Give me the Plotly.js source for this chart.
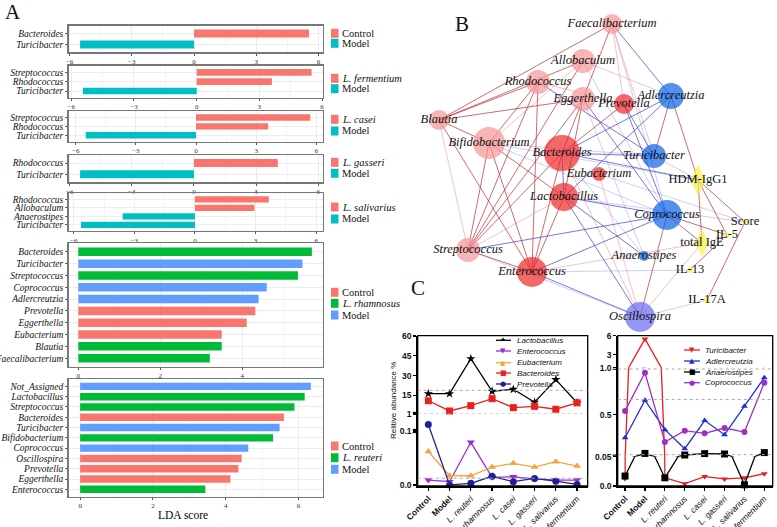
<!DOCTYPE html>
<html><head><meta charset="utf-8">
<script src="https://cdn.plot.ly/plotly-3.0.1.min.js"></script>
<style>html,body{margin:0;padding:0;background:#fff}#chart{width:777px;height:527px}</style>
</head><body><div id="chart"></div>
<script>
// ---------------- Panel A data (LEfSe LDA scores) ----------------
const a1Taxa = ['Bacteroides','Turicibacter'];
const a1LDA = [5.54, -5.49];
const a1Group = ['Control','Model'];
const a1Groups = ['Control','Model'];

const a2Taxa = ['Streptococcus','Rhodococcus','Turicibacter'];
const a2LDA = [5.5, 3.6, -5.44];
const a2Group = ['L. fermentium','L. fermentium','Model'];
const a2Groups = ['L. fermentium','Model'];

const a3Taxa = ['Streptococcus','Rhodococcus','Turicibacter'];
const a3LDA = [5.7, 3.6, -5.5];
const a3Group = ['L. casei','L. casei','Model'];
const a3Groups = ['L. casei','Model'];

const a4Taxa = ['Rhodococcus','Turicibacter'];
const a4LDA = [4.05, -5.5];
const a4Group = ['L. gasseri','Model'];
const a4Groups = ['L. gasseri','Model'];

const a5Taxa = ['Rhodococcus','Allobaculum','Anaerostipes','Turicibacter'];
const a5LDA = [3.65, 2.94, -3.58, -5.64];
const a5Group = ['L. salivarius','L. salivarius','Model','Model'];
const a5Groups = ['L. salivarius','Model'];

const a6Taxa = ['Bacteroides','Turicibacter','Streptococcus','Coprococcus','Adlercreutzia','Prevotella','Eggerthella','Eubacterium','Blautia','Faecalibacterium'];
const a6LDA = [5.7, 5.47, 5.36, 4.6, 4.4, 4.32, 4.11, 3.5, 3.5, 3.21];
const a6Group = ['L. rhamnosus','Model','L. rhamnosus','Model','Model','Control','Control','Control','L. rhamnosus','L. rhamnosus'];
const a6Groups = ['Control','L. rhamnosus','Model'];

const a7Taxa = ['Not_Assigned','Lactobacillus','Streptococcus','Bacteroides','Turicibacter','Bifidobacterium','Coprococcus','Oscillospira','Prevotella','Eggerthella','Enterococcus'];
const a7LDA = [6.34, 6.17, 5.89, 5.6, 5.48, 5.3, 4.62, 4.44, 4.35, 4.13, 3.44];
const a7Group = ['Model','L. reuteri','L. reuteri','Control','Model','L. reuteri','Model','Control','Control','Control','L. reuteri'];
const a7Groups = ['Control','L. reuteri','Model'];

// ---------------- Panel B data (correlation network) ----------------
const nodeNames = ['Faecalibacterium','Allobaculum','Rhodococcus','Eggerthella','Prevotella','Adlercreutzia','Blautia','Bifidobacterium','Bacteroides','Turicibacter','Eubacterium','Lactobacillus','Coprococcus','Streptococcus','Enterococcus','Anaerostipes','Oscillospira','HDM-IgG1','total IgE','Score','IL-5','IL-13','IL-17A'];
const nodeLayoutX = [612,583,538,583,624,671,439,489,562,654,599,564,667,468,532,644,640,698,702,745,727,690,707];
const nodeLayoutY = [24,61,82,99,104,96,120,143,153,156,174,197,215,250,272,256,317,180,243,222,235,270,300];
const nodeWeight = [20,24,24,24,20,26,20,32,36,24,14,28,30,24,30,10,30,22,20,6,6,6,6];
const nodeKind = ['ctlLight','ctlLight','ctlLight','ctlLight','ctl','model','ctlLight','ctlLight','ctl','model','ctl','ctl','model','ctlLight','ctl','model','modelAlt','immuneD','immuneD','immune','immune','immune','immune'];

const edgesPos = [['Faecalibacterium','Blautia'],['Faecalibacterium','Eggerthella'],['Allobaculum','Blautia'],['Allobaculum','Streptococcus'],['Rhodococcus','Blautia'],['Rhodococcus','Bifidobacterium'],['Rhodococcus','Streptococcus'],['Rhodococcus','Enterococcus'],['Eggerthella','Blautia'],['Eggerthella','Bacteroides'],['Eggerthella','Lactobacillus'],['Eggerthella','Streptococcus'],['Blautia','Bifidobacterium'],['Blautia','Enterococcus'],['Bifidobacterium','Streptococcus'],['Bifidobacterium','Enterococcus'],['Bifidobacterium','Lactobacillus'],['Bacteroides','Enterococcus'],['Bacteroides','Streptococcus'],['Lactobacillus','Enterococcus'],['Streptococcus','Enterococcus'],['Prevotella','Bacteroides'],['Adlercreutzia','Turicibacter'],['Adlercreutzia','HDM-IgG1'],['Coprococcus','total IgE'],['Coprococcus','Oscillospira'],['HDM-IgG1','total IgE'],['HDM-IgG1','Score'],['HDM-IgG1','IL-5'],['IL-5','IL-13'],['Score','IL-17A'],['Coprococcus','IL-5']];
const edgesPosWeak = [['Faecalibacterium','Prevotella'],['Allobaculum','Adlercreutzia'],['Rhodococcus','Prevotella'],['Blautia','Streptococcus'],['Allobaculum','Bifidobacterium'],['Lactobacillus','Streptococcus'],['Oscillospira','total IgE'],['Oscillospira','Eubacterium'],['Oscillospira','Bacteroides'],['Turicibacter','HDM-IgG1'],['Enterococcus','total IgE'],['Faecalibacterium','Turicibacter']];
const edgesNeg = [['Faecalibacterium','Adlercreutzia'],['Rhodococcus','Turicibacter'],['Eggerthella','Coprococcus'],['Prevotella','Turicibacter'],['Prevotella','Coprococcus'],['Bacteroides','Adlercreutzia'],['Bacteroides','Turicibacter'],['Bacteroides','HDM-IgG1'],['Lactobacillus','Coprococcus'],['Lactobacillus','Anaerostipes'],['Lactobacillus','Oscillospira'],['Lactobacillus','Bacteroides'],['Streptococcus','Coprococcus'],['Enterococcus','Coprococcus'],['Enterococcus','Oscillospira'],['Lactobacillus','Adlercreutzia']];
const edgesNegWeak = [['Faecalibacterium','Coprococcus'],['Allobaculum','Coprococcus'],['Bifidobacterium','Turicibacter'],['Bifidobacterium','HDM-IgG1'],['Bifidobacterium','Coprococcus'],['Lactobacillus','Score'],['Eubacterium','Score'],['Enterococcus','IL-13'],['Oscillospira','IL-17A'],['Eggerthella','Anaerostipes'],['Bacteroides','Anaerostipes'],['Streptococcus','Oscillospira']];

// ---------------- Panel C data (relative abundance %) ----------------
const cGroups = ['Control','Model','L. reuteri','L. rhamnosus','L. casei','L. gasseri','L. salivarius','L. fermentium'];
const lactobacillus = [16.4, 16.4, 42.8, 18.2, 19.7, 9.9, 27.0, 9.5];
const enterococcus = [0.009, 0.006, 0.079, 0.014, 0.015, 0.011, 0.009, 0.009];
const eubacterium = [0.062, 0.017, 0.017, 0.033, 0.040, 0.033, 0.043, 0.035];
const bacteroides = [11.0, 3.3, 7.3, 12.6, 5.8, 6.8, 4.6, 9.5];
const prevotella = [0.112, 0.0, 0.003, 0.016, 0.006, 0.012, 0.007, 0.001];
const turicibacter = [0.013, 5.5, 0.014, 0.004, 0.016, 0.012, 0.014, 0.021];
const adlercreutzia = [0.253, 0.653, 0.339, 0.135, 0.436, 0.285, 0.589, 0.893];
const anaerostipes = [0.017, 0.085, 0.014, 0.068, 0.083, 0.079, 0.002, 0.094];
const coprococcus = [0.539, 0.946, 0.206, 0.328, 0.299, 0.356, 0.313, 0.839];
const cLeftRefLines = [18.9, 0.0124];
const cRightRefLines = [0.986, 0.66, 0.072];

// ---------------- helpers ----------------
const W = 777, H = 527;
const fx = x => x / W, fy = y => 1 - y / H;
const SERIF = 'Liberation Serif', SANS = 'Liberation Sans';
const traces = [], shapes = [], annotations = [];
const layout = {width: W, height: H, margin: {l:0, r:0, t:0, b:0}, showlegend: false,
  paper_bgcolor: '#fff', plot_bgcolor: '#fff', font: {family: SERIF, color: '#000'}};

// ---------------- Panel A ----------------
const pal2 = ['#F8766D', '#00BFC4'], pal3 = ['#F8766D', '#00BA38', '#619CFF'];
const aSets = [
  {taxa:a1Taxa, lda:a1LDA, grp:a1Group, groups:a1Groups},
  {taxa:a2Taxa, lda:a2LDA, grp:a2Group, groups:a2Groups},
  {taxa:a3Taxa, lda:a3LDA, grp:a3Group, groups:a3Groups},
  {taxa:a4Taxa, lda:a4LDA, grp:a4Group, groups:a4Groups},
  {taxa:a5Taxa, lda:a5LDA, grp:a5Group, groups:a5Groups},
  {taxa:a6Taxa, lda:a6LDA, grp:a6Group, groups:a6Groups},
  {taxa:a7Taxa, lda:a7LDA, grp:a7Group, groups:a7Groups}
];
const aFrames = [
  {y0:25.7, y1:52.3, xr:[-6.05, 6.19], tv:[-6,-3,0,3,6], leg:[33.3, 43.3]},
  {y0:65.7, y1:97.7, xr:[-6.13, 6.02], tv:[-6,-3,0,3,6], leg:[78.3, 88.7]},
  {y0:111, y1:141.7, xr:[-6.36, 6.31], tv:[-6,-3,0,3,6], leg:[119.3, 131]},
  {y0:155, y1:182.3, xr:[-6.06, 6.21], tv:[-6,-3,0,3,6], leg:[162.3, 173.3]},
  {y0:193.3, y1:231, xr:[-6.26, 6.31], tv:[-6,-3,0,3,6], leg:[207, 219]},
  {y0:243.3, y1:366.7, xr:[-0.24, 5.96], tv:[0,2,4], leg:[292.3, 303.3, 315]},
  {y0:379, y1:496.7, xr:[-0.32, 6.66], tv:[0,2,4,6], leg:[446, 457.7, 469.3]}
];
aSets.forEach((s, i) => {
  const k = i + 1, fr = aFrames[i];
  const pal = s.groups.length === 2 ? pal2 : pal3;
  const colors = s.grp.map(g => pal[s.groups.indexOf(g)]);
  traces.push({type:'bar', orientation:'h', x:s.lda, y:s.taxa, width:0.72,
    marker:{color:colors, line:{width:0}}, xaxis:'x'+k, yaxis:'y'+k, hoverinfo:'x+y'});
  const n = s.taxa.length;
  const step = fr.tv[1] - fr.tv[0];
  layout['xaxis'+k] = {domain:[fx(68.5), fx(322.5)], range:fr.xr, anchor:'y'+k,
    tickvals:fr.tv, ticks:'outside', ticklen:2, tickcolor:'#555',
    tickfont:{family:SERIF, size:7, color:'#333'}, showline:true, mirror:true,
    linecolor:'#777', linewidth:1.3, showgrid:true, gridcolor:'#ececec', zeroline:false,
    minor:{dtick:step/2, tick0:0, showgrid:true, gridcolor:'#f5f5f5'}};
  layout['yaxis'+k] = {domain:[fy(fr.y1), fy(fr.y0)], type:'category', categoryarray:s.taxa,
    tickmode:'array', tickvals:s.taxa, ticktext:s.taxa,
    range:[n - 1 + 0.72, -0.72], anchor:'x'+k, ticks:'outside', ticklen:2, tickcolor:'#555',
    tickfont:{family:SERIF, size:9.5, style:'italic', color:'#111'}, showline:true, mirror:true,
    linecolor:'#777', linewidth:1.3, showgrid:true, gridcolor:'#ececec', zeroline:false};
  s.groups.forEach((g, j) => {
    const yy = fr.leg[j];
    shapes.push({type:'rect', xref:'paper', yref:'paper', x0:fx(331), x1:fx(338.5),
      y0:fy(yy+4.5), y1:fy(yy-4.5), fillcolor:pal[j], line:{width:0}});
    const txt = g.startsWith('L.') ? '<i>'+g+'</i>' : g;
    annotations.push({xref:'paper', yref:'paper', x:fx(340), y:fy(yy), xanchor:'left', yanchor:'middle',
      text:txt, showarrow:false, font:{family:SERIF, size:10.5, color:'#111'}});
  });
});
annotations.push({xref:'paper', yref:'paper', x:fx(183), y:fy(515), text:'LDA score', showarrow:false,
  font:{family:SERIF, size:11.5}, xanchor:'center', yanchor:'middle'});

// ---------------- Panel B ----------------
const kindColor = {ctlLight:'#F49696', ctl:'#EE2828', model:'#0C62E8', modelAlt:'#6A6AF0', immuneD:'#F6F24A', immune:'#F6F24A'};
const idx = name => nodeNames.indexOf(name);
function edgeTrace(list, color, w) {
  const xs = [], ys = [];
  list.forEach(([a, b]) => { xs.push(nodeLayoutX[idx(a)], nodeLayoutX[idx(b)], null); ys.push(nodeLayoutY[idx(a)], nodeLayoutY[idx(b)], null); });
  return {type:'scatter', mode:'lines', x:xs, y:ys, xaxis:'x8', yaxis:'y8', line:{color:color, width:w}, hoverinfo:'skip'};
}
traces.push(edgeTrace(edgesNegWeak, 'rgba(120,120,225,0.4)', 0.9));
traces.push(edgeTrace(edgesPosWeak, 'rgba(236,120,130,0.5)', 0.9));
traces.push(edgeTrace(edgesNeg, 'rgba(40,40,200,0.7)', 0.9));
traces.push(edgeTrace(edgesPos, 'rgba(185,35,45,0.75)', 0.9));
traces.push({type:'scatter', mode:'markers', x:nodeLayoutX, y:nodeLayoutY, xaxis:'x8', yaxis:'y8',
  marker:{size:nodeWeight, color:nodeKind.map(k => kindColor[k]),
    symbol:nodeKind.map(k => k === 'immuneD' ? 'diamond-tall' : 'circle'), line:{width:0}},
  text:nodeNames, hoverinfo:'text', cliponaxis:false});
traces.push({type:'scatter', mode:'text', x:nodeLayoutX, y:nodeLayoutY, xaxis:'x8', yaxis:'y8',
  text:nodeNames.map((n, i) => nodeKind[i].startsWith('immune') ? n : '<i>'+n+'</i>'),
  textposition:'middle center', textfont:{family:SERIF, size:12.5, color:'#111'}, hoverinfo:'skip', cliponaxis:false});
layout.xaxis8 = {domain:[fx(395), 1], range:[395, 777], visible:false, anchor:'y8'};
layout.yaxis8 = {domain:[fy(330), 1], range:[330, 0], visible:false, anchor:'x8'};

// ---------------- Panel C ----------------
const cTick = cGroups.map(g => (g === 'Control' || g === 'Model') ? '<b>'+g+'</b>' : '<i>'+g+'</i>');
const leftSeries = [
  {name:'Lactobacillus', y:lactobacillus, color:'#000000', symbol:'star', size:7, glyph:'✦'},
  {name:'Enterococcus', y:enterococcus, color:'#9A2BD6', symbol:'triangle-down', size:7, glyph:'▼'},
  {name:'Eubacterium', y:eubacterium, color:'#F5A340', symbol:'triangle-up', size:7, glyph:'▲'},
  {name:'Bacteroides', y:bacteroides, color:'#E8201E', symbol:'square', size:7, glyph:'■'},
  {name:'Prevotella', y:prevotella, color:'#1F1F9A', symbol:'circle', size:7, glyph:'●'}
];
const rightSeries = [
  {name:'Turicibacter', y:turicibacter, color:'#EE1C1C', symbol:'triangle-down', size:6, glyph:'▼'},
  {name:'Adlercreutzia', y:adlercreutzia, color:'#1C2ED6', symbol:'triangle-up', size:6, glyph:'▲'},
  {name:'Anaerostipes', y:anaerostipes, color:'#000000', symbol:'square', size:7, glyph:'■'},
  {name:'Coprococcus', y:coprococcus, color:'#A22CC8', symbol:'circle', size:6, glyph:'●'}
];
const leftSegs = [
  {ax:'y9', range:[-0.002, 0.1315], top:414, bot:486, tv:[0, 0.1], tt:['0.0','0.1'], brk:[0.1]},
  {ax:'y10', range:[1, 60], top:336, bot:414, tv:[1,15,30,45,60], tt:['1','15','30','45','60'], brk:[1]}
];
const rightSegs = [
  {ax:'y11', range:[0, 0.05], top:456.7, bot:486, tv:[0], tt:['0.0'], brk:[]},
  {ax:'y12', range:[0.05, 1.0], top:367.7, bot:456.7, tv:[0.05, 0.5, 1.0], tt:['0.05','0.5','1.0'], brk:[0.05, 1.0]},
  {ax:'y13', range:[1, 6], top:335.7, bot:367.7, tv:[3, 6], tt:['3','6'], brk:[]}
];
function buildChart(series, segs, xa, xr, xl, xrpx) {
  segs.forEach((sg, si) => {
    layout[sg.ax.replace('y','yaxis')] = {domain:[fy(sg.bot), fy(sg.top)], range:sg.range, anchor:xa,
      tickmode:'array', tickvals:sg.tv, ticktext:sg.tt, ticks:'outside', ticklen:3, tickwidth:1.2, tickcolor:'#000',
      tickfont:{family:SANS, size:8.5, weight:'bold', color:'#111'}, showline:true, linecolor:'#000',
      linewidth:1.5, showgrid:false, zeroline:false};
    series.forEach(s => {
      traces.push({type:'scatter', mode:'lines', x:cGroups, y:s.y, xaxis:xa, yaxis:sg.ax,
        line:{color:s.color, width:1.3}, hoverinfo:'skip', cliponaxis:true});
      const lo = sg.range[0], hi = sg.range[1];
      const inSeg = s.y.map(v => ((si === 0 ? v >= lo : v > lo) && v <= hi) ? v : null);
      traces.push({type:'scatter', mode:'markers', x:cGroups, y:inSeg, xaxis:xa, yaxis:sg.ax,
        marker:{color:s.color, symbol:s.symbol, size:s.size}, name:s.name, cliponaxis:false});
    });
    // axis-break marks (double tick "=")
    sg.brk.forEach(v => [-1.6, 1.6].forEach(d => shapes.push({type:'line', xref:'paper', yref:sg.ax,
      ysizemode:'pixel', yanchor:v, y0:d, y1:d, x0:fx(xl - 5), x1:fx(xl + 0.5), line:{color:'#000', width:1.1}})));
  });
  layout[xa.replace('x','xaxis')] = {domain:[fx(xl), fx(xrpx)], range:xr, anchor:segs[0].ax, type:'category',
    categoryarray:cGroups, tickvals:cGroups, ticktext:cTick, tickangle:-45, ticks:'outside', ticklen:3,
    tickwidth:1.2, tickcolor:'#000', tickfont:{family:SANS, size:8.5, color:'#111'}, showline:true,
    linecolor:'#000', linewidth:1.5, showgrid:false, zeroline:false};
  shapes.push({type:'rect', xref:'paper', yref:'paper', x0:fx(xl), x1:fx(xrpx), y0:fy(486), y1:fy(335.7),
    line:{color:'#000', width:1.3}, fillcolor:'rgba(0,0,0,0)'});
}
buildChart(leftSeries, leftSegs, 'x9', [-0.5, 7.5], 417.7, 587.7);
buildChart(rightSeries, rightSegs, 'x10', [-0.37, 7.42], 617.7, 772.7);

// dotted reference lines
shapes.push({type:'line', xref:'x9', yref:'y10', x0:-0.5, x1:7.5, y0:cLeftRefLines[0], y1:cLeftRefLines[0], line:{color:'#aaa', width:1, dash:'dot'}});
shapes.push({type:'line', xref:'x9', yref:'y10', x0:-0.5, x1:7.5, y0:1, y1:1, line:{color:'#aaa', width:1, dash:'dot'}});
shapes.push({type:'line', xref:'x9', yref:'y9', x0:-0.5, x1:7.5, y0:cLeftRefLines[1], y1:cLeftRefLines[1], line:{color:'#aaa', width:1, dash:'dot'}});
cRightRefLines.forEach(v => shapes.push({type:'line', xref:'x10', yref:'y12', x0:-0.37, x1:7.42, y0:v, y1:v, line:{color:'#aaa', width:1, dash:'dot'}}));

// legends for panel C
function cLegend(series, ys, lx0, lx1, tx) {
  series.forEach((s, i) => {
    const yy = ys[i];
    shapes.push({type:'line', xref:'paper', yref:'paper', x0:fx(lx0), x1:fx(lx1), y0:fy(yy), y1:fy(yy), line:{color:s.color, width:1.3}});
    annotations.push({xref:'paper', yref:'paper', x:fx((lx0+lx1)/2), y:fy(yy), text:s.glyph, showarrow:false,
      font:{family:'DejaVu Sans', size:7, color:s.color}, xanchor:'center', yanchor:'middle'});
    annotations.push({xref:'paper', yref:'paper', x:fx(tx), y:fy(yy), text:'<i>'+s.name+'</i>', showarrow:false,
      font:{family:SANS, size:8, color:'#111'}, xanchor:'left', yanchor:'middle'});
  });
}
cLegend(leftSeries, [340.3, 351, 362.7, 373, 384], 496, 511, 515);
cLegend(rightSeries, [350, 361, 372, 382.7], 684, 700, 703);

annotations.push({xref:'paper', yref:'paper', x:fx(393), y:fy(401), text:'Relitive abundance %', textangle:-90,
  showarrow:false, font:{family:SANS, size:8, color:'#111'}, xanchor:'center', yanchor:'middle'});

// panel letters
[['A', 13, 12], ['B', 462, 24], ['C', 418, 288]].forEach(([t, x, y]) => annotations.push({xref:'paper', yref:'paper',
  x:fx(x), y:fy(y), text:t, showarrow:false, font:{family:SERIF, size:21, color:'#111'}, xanchor:'center', yanchor:'middle'}));

layout.shapes = shapes;
layout.annotations = annotations;
Plotly.newPlot('chart', traces, layout, {displayModeBar:false, staticPlot:true});
</script></body></html>
